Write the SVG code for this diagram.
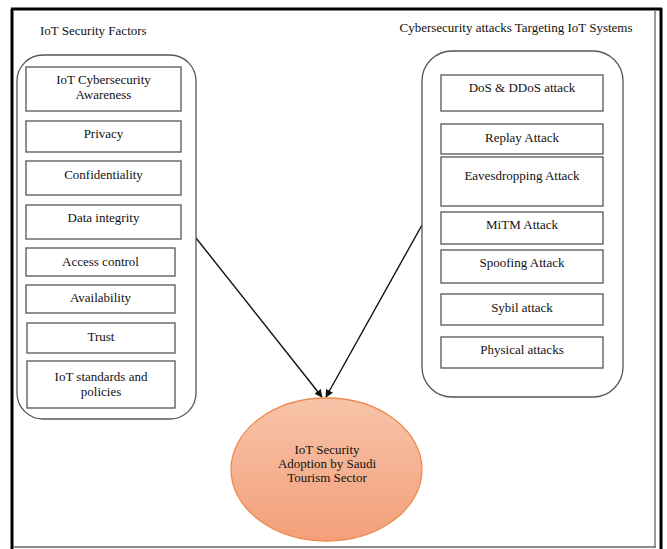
<svg xmlns="http://www.w3.org/2000/svg" width="667" height="549" viewBox="0 0 667 549">
<style>
.t{font-family:"Liberation Serif","Times New Roman",serif;font-size:13px;fill:#111;text-anchor:middle}
.h{font-family:"Liberation Serif","Times New Roman",serif;font-size:13px;fill:#111}
.box{fill:#fff;stroke:#555;stroke-width:1.3}
.cont{fill:#fff;stroke:#555;stroke-width:1.3}
.con{stroke:#111;stroke-width:1.4;fill:none;marker-end:url(#ah)}
</style>
<defs>
<marker id="ah" viewBox="0 0 10 10" refX="9" refY="5" markerWidth="8" markerHeight="8" orient="auto" markerUnits="userSpaceOnUse">
<path d="M0,0 L10,5 L0,10 z" fill="#111"/>
</marker>
<linearGradient id="eg" x1="0" y1="0" x2="0" y2="1">
<stop offset="0" stop-color="#f7c4aa"/>
<stop offset="1" stop-color="#f39f79"/>
</linearGradient>
</defs>
<rect width="667" height="549" fill="#fff"/>
<g id="frame">
<line x1="12" y1="9" x2="12" y2="549" stroke="#000" stroke-width="3"/>
<line x1="11" y1="9" x2="662" y2="9" stroke="#000" stroke-width="3"/>
<line x1="661" y1="8" x2="661" y2="549" stroke="#000" stroke-width="3"/>
<line x1="655" y1="11" x2="655" y2="547" stroke="#666" stroke-width="1.3"/>
<line x1="13" y1="547" x2="656" y2="547" stroke="#666" stroke-width="1.3"/>
</g>
<g id="titles">
<text class="h" x="40" y="35">IoT Security Factors</text>
<text class="h" x="516" y="32" text-anchor="middle">Cybersecurity attacks Targeting IoT Systems</text>
</g>
<g id="connectors">
<line class="con" x1="196" y1="238" x2="322" y2="397"/>
<line class="con" x1="422" y1="225" x2="326" y2="397"/>
</g>
<g id="factors">
<rect class="cont" x="17" y="55" width="179" height="364" rx="26"/>
<g id="f1"><rect class="box" x="26" y="67" width="155" height="44"/><text class="t" x="103.5" y="84">IoT Cybersecurity</text><text class="t" x="103.5" y="99">Awareness</text></g>
<g id="f2"><rect class="box" x="26" y="121" width="155" height="31"/><text class="t" x="103.5" y="138">Privacy</text></g>
<g id="f3"><rect class="box" x="26" y="161" width="155" height="34"/><text class="t" x="103.5" y="179">Confidentiality</text></g>
<g id="f4"><rect class="box" x="26" y="205" width="155" height="34"/><text class="t" x="103.5" y="222">Data integrity</text></g>
<g id="f5"><rect class="box" x="26" y="248" width="149" height="28"/><text class="t" x="100.5" y="266">Access control</text></g>
<g id="f6"><rect class="box" x="26" y="285" width="149" height="28"/><text class="t" x="100.5" y="302">Availability</text></g>
<g id="f7"><rect class="box" x="27" y="323" width="148" height="30"/><text class="t" x="101" y="341">Trust</text></g>
<g id="f8"><rect class="box" x="27" y="361" width="148" height="47"/><text class="t" x="101" y="381">IoT standards and</text><text class="t" x="101" y="396">policies</text></g>
</g>
<g id="attacks">
<rect class="cont" x="422" y="51" width="201" height="346" rx="30"/>
<g id="a1"><rect class="box" x="441" y="75" width="162" height="36"/><text class="t" x="522" y="92">DoS &amp; DDoS attack</text></g>
<g id="a2"><rect class="box" x="441" y="124" width="162" height="30"/><text class="t" x="522" y="142">Replay Attack</text></g>
<g id="a3"><rect class="box" x="441" y="157" width="162" height="49"/><text class="t" x="522" y="180">Eavesdropping Attack</text></g>
<g id="a4"><rect class="box" x="441" y="212" width="162" height="32"/><text class="t" x="522" y="229">MiTM Attack</text></g>
<g id="a5"><rect class="box" x="441" y="250" width="162" height="33"/><text class="t" x="522" y="267">Spoofing Attack</text></g>
<g id="a6"><rect class="box" x="441" y="294" width="162" height="31"/><text class="t" x="522" y="312">Sybil attack</text></g>
<g id="a7"><rect class="box" x="441" y="337" width="162" height="31"/><text class="t" x="522" y="354">Physical attacks</text></g>
</g>
<g id="adoption">
<ellipse cx="326.5" cy="469.5" rx="95.5" ry="71.5" fill="url(#eg)" stroke="#ee8a4e" stroke-width="1.3"/>
<text class="t" x="327" y="454">IoT Security</text>
<text class="t" x="327" y="468">Adoption by Saudi</text>
<text class="t" x="327" y="482">Tourism Sector</text>
</g>
</svg>
